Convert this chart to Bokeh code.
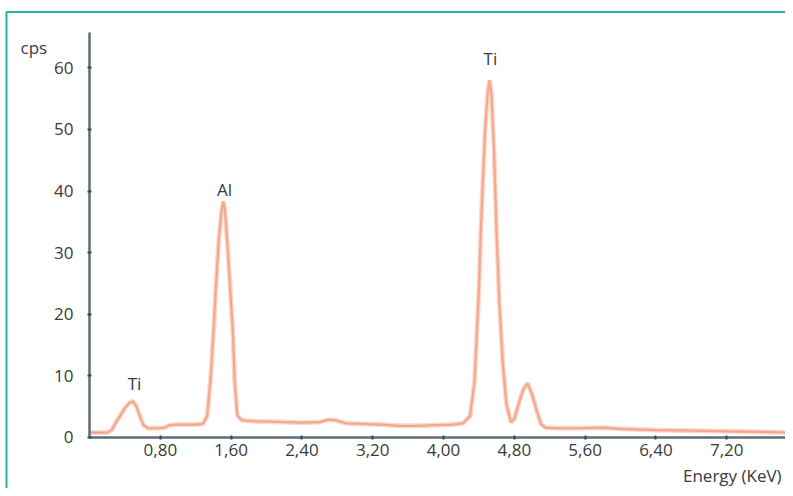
from bokeh.plotting import figure
from bokeh.models import FixedTicker, Label, BoxAnnotation, Range1d
from bokeh.embed import file_html
from bokeh.resources import INLINE

# spectrum (keV, cps)
energy = [0.00, 0.10, 0.20, 0.25, 0.30, 0.35, 0.40, 0.45, 0.49, 0.53, 0.57, 0.61,
          0.66, 0.75, 0.85, 0.90, 1.00, 1.10, 1.20, 1.28, 1.33, 1.37, 1.40, 1.43,
          1.46, 1.49, 1.51, 1.53, 1.56, 1.59, 1.62, 1.64, 1.67, 1.72, 1.80, 1.90,
          2.00, 2.20, 2.40, 2.60, 2.70, 2.78, 2.90, 3.10, 3.30, 3.50, 3.70, 3.90,
          4.10, 4.22, 4.30, 4.35, 4.40, 4.42, 4.44, 4.47, 4.50, 4.52, 4.54, 4.57,
          4.60, 4.63, 4.67, 4.71, 4.76, 4.80, 4.85, 4.90, 4.95, 5.00, 5.05, 5.10,
          5.15, 5.30, 5.50, 5.80, 6.00, 6.40, 6.80, 7.20, 7.60, 7.95]
cps = [0.8, 0.8, 0.8, 1.2, 2.5, 3.6, 4.8, 5.6, 5.9, 5.0, 3.4, 2.0,
       1.5, 1.5, 1.6, 2.0, 2.1, 2.1, 2.1, 2.2, 3.5, 10.0, 17.0, 25.0,
       32.0, 36.5, 38.3, 37.0, 31.0, 24.0, 17.0, 9.0, 3.6, 2.8, 2.7, 2.6,
       2.6, 2.5, 2.4, 2.5, 2.9, 2.8, 2.3, 2.2, 2.1, 1.9, 1.9, 2.0,
       2.1, 2.3, 3.5, 9.0, 24.0, 33.0, 40.0, 50.0, 56.0, 58.0, 56.0, 47.0,
       33.0, 22.0, 12.0, 5.5, 2.5, 3.0, 5.5, 7.8, 8.8, 7.0, 4.5, 2.2,
       1.6, 1.5, 1.5, 1.6, 1.4, 1.2, 1.1, 1.0, 0.9, 0.8]

x_ticks = [0.8, 1.6, 2.4, 3.2, 4.0, 4.8, 5.6, 6.4, 7.2]
x_tick_labels = ["0,80", "1,60", "2,40", "3,20", "4,00", "4,80", "5,60", "6,40", "7,20"]
y_ticks = [0, 10, 20, 30, 40, 50, 60]

peak_names = ["Ti", "Al", "Ti"]
peak_x = [0.508, 1.525, 4.53]
peak_y = [8.8, 40.3, 61.6]

x_label = "Energy (KeV)"
y_label = "cps"

FONT = "Open Sans"
TXT = "#3a3a3a"

p = figure(width=785, height=488, output_backend="svg", toolbar_location=None,
           x_range=Range1d(-1.006, 7.864), y_range=Range1d(-8.28, 70.94),
           min_border_left=0, min_border_right=0, min_border_top=0,
           min_border_bottom=0)
p.background_fill_color = "white"
p.border_fill_color = "white"
p.outline_line_color = None
p.grid.grid_line_color = None

# teal frame (open at right and bottom)
p.add_layout(BoxAnnotation(left=-0.938, right=9.0, top=69.07, bottom=-20,
                           fill_alpha=0, line_color="#2bb3a3", line_alpha=1.0,
                           line_width=2, level="underlay"))

# spectrum line: soft halo + core
p.line(energy, cps, line_color="#fbd5c6", line_width=5, line_alpha=0.9)
p.line(energy, cps, line_color="#f4a184", line_width=2.2, line_alpha=0.9)

for ax in (p.xaxis[0], p.yaxis[0]):
    ax.fixed_location = 0
    ax.axis_line_color = "#5d6d78"
    ax.axis_line_width = 2.5
    ax.major_tick_line_color = "#2f4858"
    ax.major_tick_line_width = 2
    ax.major_tick_in = 2
    ax.major_tick_out = 2
    ax.minor_tick_line_color = None
    ax.major_label_text_font = FONT
    ax.major_label_text_font_size = "17px"
    ax.major_label_text_color = TXT

p.xaxis[0].bounds = (0, 7.955)
p.xaxis[0].ticker = FixedTicker(ticks=x_ticks)
p.xaxis[0].major_label_overrides = {t: l for t, l in zip(x_ticks, x_tick_labels)}
p.xaxis[0].major_label_standoff = 5
p.yaxis[0].bounds = (0, 65.75)
p.yaxis[0].ticker = FixedTicker(ticks=y_ticks)
p.yaxis[0].major_label_standoff = 14

for name, xx, yy in zip(peak_names, peak_x, peak_y):
    p.add_layout(Label(x=xx, y=yy, text=name, text_align="center",
                       text_baseline="alphabetic", text_font=FONT,
                       text_font_size="17px", text_color=TXT))

p.add_layout(Label(x=-0.78, y=63.3, text=y_label, text_align="left",
                   text_baseline="alphabetic", text_font=FONT,
                   text_font_size="17px", text_color=TXT))
p.add_layout(Label(x=7.82, y=-6.2, text=x_label, text_align="right",
                   text_baseline="alphabetic", text_font=FONT,
                   text_font_size="17px", text_color=TXT))

open("out.html", "w").write(file_html(p, INLINE))
